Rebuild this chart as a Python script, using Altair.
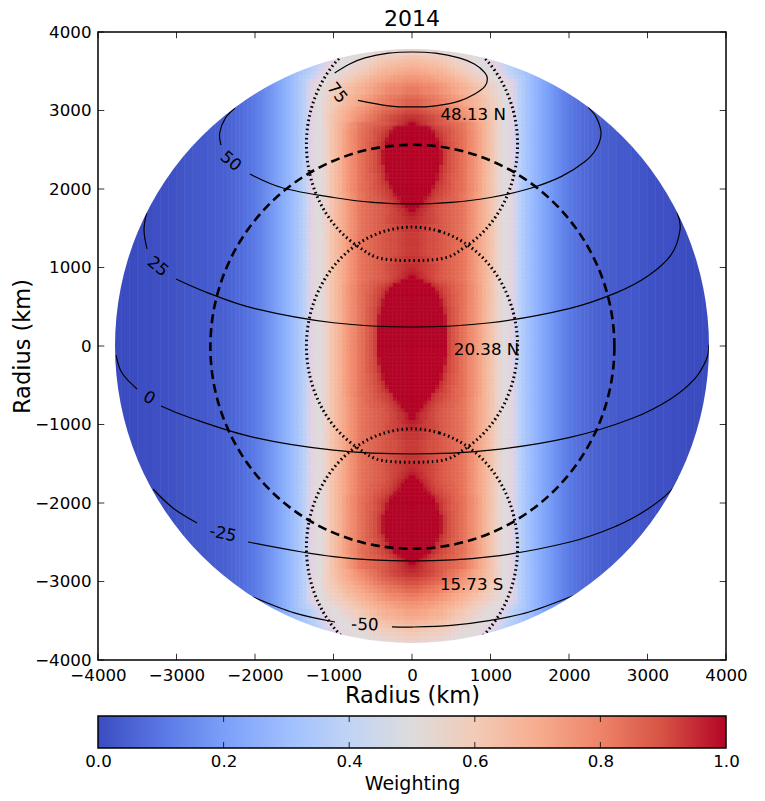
import altair as alt
import pandas as pd

FONT = 'DejaVu Sans'

# map columns: cell edges in km for x >= 0, mirrored for x < 0
inner_edges = list(range(0, 1550, 50))
tail_edges = list(range(1500, 2400, 50)) + list(range(2400, 3900, 100))

# weighting (percent) beyond x = 1500 km, same for every row
tail = [29.5, 27, 25, 22.5, 20.5, 18.5, 16.5, 15, 13, 12, 10.5, 9.5, 8.5, 7.5, 7, 6, 5.5, 5,
        4.5, 4, 3, 3, 2.5, 2, 1.5, 1, 1, 0.5, 0.5, 0, 0, 0]
# weighting (percent) from x = 900 to 1500 km on the rows near the red lobes
shoulder = [68, 65, 62, 58, 54, 50, 47.5, 45, 42, 38.5, 35, 32]
# x = 600 to 900 km
high = [85, 83, 80, 78, 75, 72]
low = [84, 82, 79, 77, 74, 71]

# row shapes, x = 0 to 900 km
A460 = [100] * 9 + [93, 90, 88] + high
A430 = [100] * 8 + [99, 92, 90, 88] + high
A400 = [100] * 8 + [96, 92, 90, 88] + high
A370 = [100] * 7 + [99, 94, 91, 89, 87] + high
A340 = [100] * 7 + [96, 93, 91, 89, 87] + high
A310 = [100] * 6 + [99, 95, 92, 90, 88, 87] + high
A280 = [100] * 6 + [96, 94, 92, 90, 88, 86] + high
A250 = [100] * 5 + [99, 95, 93, 91, 90, 88, 86] + high
A220 = [100] * 5 + [96, 94, 92, 91, 89, 88, 86] + high
A190 = [100] * 4 + [99, 95, 93, 92, 90, 89, 87, 86] + low
A160 = [100] * 3 + [99, 96, 94, 92, 91, 89, 88, 87, 86] + low
A125 = [100] * 3 + [97, 95, 93, 91, 90, 89, 88, 87, 85] + low
A90 = [100, 100, 98, 96, 94, 92, 91, 89, 88, 87, 86, 85] + low
A45 = [100, 98, 96, 95, 93, 92, 90, 89, 88, 87, 86, 85] + low
A0 = [98, 97, 96, 94, 93, 92, 90, 89, 88, 87, 86, 85] + low
O98 = [97, 96, 95, 94, 93, 92, 91, 89, 88, 87, 86, 85] + low
O97 = [96, 96, 95, 94, 93, 92, 91, 89, 88, 87, 86, 85] + low
O96 = [95, 95, 94, 93, 92, 91, 90, 89, 88, 87, 86, 85] + low
O95 = [94, 94, 93, 92, 91, 91, 90, 89, 88, 87, 86, 85] + low

# polar rows, x = 0 to 1500 km
P97 = [97, 96, 95, 94, 93, 92, 90, 89, 87, 85, 84, 82, 80, 78, 76, 73, 71, 69, 67, 64, 62, 59, 55, 50, 47, 45, 42, 38, 35, 32]
P95 = [95, 95, 94, 93, 92, 91, 89, 88, 86, 84, 83, 81, 79, 77, 75, 73, 71, 69, 66, 64, 62, 59, 55, 50, 47, 45, 42, 38, 35, 32]
P92 = [92, 92, 91, 90, 89, 88, 87, 86, 84, 83, 81, 79, 77, 75, 74, 72, 70, 68, 66, 63, 61, 58, 55, 50, 47, 45, 42, 38, 35, 32]
P90 = [90, 90, 89, 88, 87, 86, 85, 84, 82, 81, 79, 77, 75, 74, 72, 70, 68, 67, 65, 62, 60, 58, 55, 50, 47, 45, 42, 38, 35, 32]
P87 = [87, 87, 86, 85, 84, 83, 82, 81, 80, 78, 76, 75, 73, 71, 70, 68, 67, 65, 63, 61, 59, 57, 54, 50, 47, 45, 42, 38, 35, 32]
P85 = [85, 85, 84, 83, 82, 82, 81, 79, 78, 76, 75, 73, 72, 70, 69, 67, 66, 64, 62, 60, 58, 56, 54, 50, 47, 45, 42, 38, 35, 32]
P82 = [82, 82, 81, 80, 80, 79, 78, 76, 75, 74, 72, 71, 69, 68, 67, 65, 64, 62, 60, 59, 56, 54, 52, 50, 47, 45, 42, 38, 35, 32]
P80 = [80, 80, 79, 78, 78, 77, 76, 75, 74, 72, 71, 70, 68, 67, 65, 64, 62, 61, 59, 58, 56, 54, 52, 50, 47, 45, 42, 38, 35, 32]
P77 = [77, 77, 76, 75, 75, 74, 73, 72, 71, 70, 69, 67, 66, 64, 63, 61, 60, 58, 57, 55, 53, 51, 49, 47, 45, 43, 41, 38, 35, 32]
P75 = [75, 75, 74, 74, 73, 72, 71, 70, 69, 68, 67, 65, 64, 62, 61, 59, 58, 56, 55, 53, 51, 49, 47, 45, 43, 41, 39, 37, 35, 32]
P72 = [72, 72, 71, 71, 70, 69, 69, 68, 67, 65, 64, 62, 61, 60, 58, 57, 55, 54, 52, 50, 48, 47, 45, 43, 41, 39, 37, 35, 33, 31]
P70 = [70, 70, 69, 69, 68, 67, 67, 66, 65, 63, 62, 60, 59, 58, 56, 55, 53, 52, 50, 48, 47, 46, 44, 42, 40, 38, 36, 34, 32, 30]
P67 = [67, 67, 66, 66, 65, 65, 64, 63, 62, 60, 59, 58, 56, 55, 54, 53, 51, 50, 49, 47, 46, 45, 43, 41, 39, 37, 35, 33, 31, 30]
P65 = [65, 65, 64, 64, 63, 63, 62, 61, 60, 59, 57, 56, 55, 54, 53, 52, 50, 49, 48, 46, 45, 44, 42, 40, 38, 36, 34, 33, 31, 30]
P62 = [62, 62, 61, 61, 60, 60, 59, 59, 58, 57, 55, 54, 53, 52, 51, 50, 48, 47, 46, 45, 44, 42, 41, 39, 38, 36, 34, 33, 31, 30]
P60 = [60, 60, 59, 59, 58, 58, 57, 57, 56, 55, 54, 53, 52, 51, 50, 48, 47, 46, 45, 44, 43, 41, 40, 38, 37, 35, 34, 32, 31, 30]
P57 = [57, 57, 56, 56, 56, 55, 55, 54, 54, 53, 52, 51, 50, 49, 48, 47, 46, 45, 44, 43, 42, 40, 39, 37, 36, 34, 33, 32, 30, 29]
P55 = [55, 55, 55, 54, 54, 54, 53, 53, 52, 52, 51, 50, 49, 48, 47, 46, 45, 44, 43, 42, 41, 40, 38, 37, 35, 34, 33, 31, 30, 29]

# one shape per 50 km row, y = 3800 down to 0
rows_north = [
    P55, P57, P62, P65, P67, P70, P72, P75, P77, P80,
    P82, P82, P85, P87, P87, P90, P92, P95, P97, A45,
    A190, A250, A280, A310, A340, A340, A370, A370, A370, A370,
    A340, A340, A310, A310, A280, A250, A220, A190, A160, A125,
    A90, A45, A0, O98, O97, O96, O96, O95, O95, O95,
    O95, O95, O95, O96, O96, O97, O98, A0, A45, A125,
    A220, A280, A310, A340, A370, A370, A400, A400, A430, A430,
    A430, A460, A460, A460, A460, A460,
]
# same for y = 0 down to -3800
rows_south = [
    A460, A460, A460, A430, A430, A400, A400, A370, A370, A340,
    A310, A280, A220, A190, A160, A125, A90, A45, A45, A0,
    O98, O97, O96, O96, O95, O95, O95, O95, O96, O96,
    O97, O98, A0, A45, A90, A125, A160, A190, A250, A280,
    A310, A310, A340, A370, A370, A370, A370, A370, A340, A310,
    A280, A250, A220, A160, A90, A45, A0, P97, P95, P92,
    P90, P87, P85, P82, P80, P77, P75, P72, P72, P70,
    P67, P65, P62, P60, P57, P55,
]

# latitude lines, (km, km), each one broken where its label sits
lat_lines = {
    '75': ([-985, -800, -600, -300, 0, 300, 600, 800, 930, 960, 930, 800, 600, 300, 0, -300, -688],
           [3478, 3590, 3670, 3730, 3745, 3730, 3670, 3590, 3480, 3400, 3310, 3210, 3120, 3060, 3045, 3060, 3130]),
    '50a': ([-2255, -2380, -2450, -2433],
            [3032, 2900, 2713, 2560]),
    '50b': ([-2064, -1643, -1000, -500, 0, 500, 1000, 1500, 1900, 2200, 2350, 2408, 2350, 2245],
            [2191, 2013, 1892, 1830, 1810, 1830, 1892, 2007, 2158, 2346, 2516, 2713, 2909, 3040]),
    '25a': ([-3380, -3414, -3376],
            [1700, 1478, 1236]),
    '25b': ([-3006, -2600, -2000, -1000, 0, 1000, 2000, 2600, 3000, 3300, 3414, 3376],
            [853, 677, 476, 296, 242, 296, 476, 677, 888, 1161, 1478, 1707]),
    '0a': ([-3770, -3694, -3503],
           [-115, -344, -548]),
    '0b': ([-3197, -2800, -2000, -1000, 0, 1000, 2000, 2800, 3300, 3600, 3750, 3783],
           [-764, -924, -1168, -1327, -1376, -1327, -1168, -924, -671, -420, -173, 13]),
    '-25a': ([-3299, -3045, -2739],
             [-1822, -2064, -2255]),
    '-25b': ([-2089, -1000, 0, 1000, 2000, 2600, 3000, 3300, 3388],
             [-2497, -2684, -2739, -2684, -2500, -2295, -2080, -1840, -1682]),
    '-50a': ([-2025, -1500, -981],
             [-3197, -3400, -3516]),
    '-50b': ([-255, 0, 500, 1000, 1500, 2140],
             [-3577, -3580, -3558, -3495, -3385, -3146]),
}

# dotted visibility outlines: one ring, centred on ring_centres
ring_x = [0, 348, 672, 951, 1165, 1299, 1345, 1299, 1165, 951, 672, 348]
ring_y = [1515, 1463, 1312, 1071, 757, 392, 0, -392, -757, -1071, -1312, -1463]
ring_centres = [2570, 0, -2570]

# contour labels
lat_text = ['75', '50', '25', '0', '-25', '-50']
lat_text_x = [-955, -2310, -3240, -3350, -2408, -600]
lat_text_y = [3223, 2350, 1010, -662, -2395, -3554]
lat_text_angle = [52, 40, 40, 30, 12, 2]

notes = ['48.13 N', '20.38 N', '15.73 S']
notes_x = [780, 950, 760]
notes_y = [2940, -50, -3040]

limb_centre = [0]
dashed_x = [5]
dashed_y = [-10]
axis_ticks = [-4000, -3000, -2000, -1000, 0, 1000, 2000, 3000, 4000]
frame_lo = [-4000]
frame_hi = [4000]

stops = [0, .1, .2, .3, .4, .5, .6, .7, .8, .9, 1]
stop_colors = ['#3b4cc0', '#5977e3', '#7b9ff9', '#9ebeff', '#c0d4f5', '#dddcdc',
               '#f2cbb7', '#f7ac8e', '#ee8468', '#d65244', '#b40426']
bar_ticks = [0.2, 0.4, 0.6, 0.8]
bar_lo = [0]
bar_hi = [1]

# build the cell table
cells = []


def add_rows(rows, y_start):
    for r, shape in enumerate(rows):
        y_top = y_start - r * 50
        profile = list(shape)
        if len(profile) == 18:
            profile = profile + shoulder
        for c, w in enumerate(profile):
            x0, x1 = inner_edges[c], inner_edges[c + 1]
            cells.append({'x0': x0, 'x1': x1, 'y0': y_top - 50, 'y1': y_top, 'w': w / 100})
            cells.append({'x0': -x1, 'x1': -x0, 'y0': y_top - 50, 'y1': y_top, 'w': w / 100})


add_rows(rows_north, 3800)
add_rows(rows_south, 0)
# the outer columns run the whole height, the limb mask trims them
for c, w in enumerate(tail):
    x0, x1 = tail_edges[c], tail_edges[c + 1]
    cells.append({'x0': x0, 'x1': x1, 'y0': -3800, 'y1': 3800, 'w': w / 100})
    cells.append({'x0': -x1, 'x1': -x0, 'y0': -3800, 'y1': 3800, 'w': w / 100})
cells = pd.DataFrame(cells)

line_rows = []
for name, (xs, ys) in lat_lines.items():
    for i in range(len(xs)):
        line_rows.append({'seg': name, 'i': i, 'x': xs[i], 'y': ys[i]})
line_df = pd.DataFrame(line_rows)

ring_rows = []
for n, centre in enumerate(ring_centres):
    for i in range(len(ring_x)):
        ring_rows.append({'ring': n, 'i': i, 'x': ring_x[i], 'y': ring_y[i] + centre})
    for i in range(1, len(ring_x)):
        j = len(ring_x) - i
        ring_rows.append({'ring': n, 'i': len(ring_x) + i, 'x': -ring_x[j], 'y': ring_y[j] + centre})
ring_df = pd.DataFrame(ring_rows)

km = alt.Scale(domain=[-4000, 4000], nice=False, zero=False)
color_scale = alt.Scale(domain=stops, range=stop_colors, clamp=True)


def km_axis(title, title_padding):
    return alt.Axis(title=title, values=axis_ticks, format='d', grid=False, domain=False, ticks=False,
                    labelFont=FONT, labelFontSize=16.67, labelColor='black', labelPadding=7,
                    labelOverlap=False, labelBound=False, labelFlush=False,
                    titleFont=FONT, titleFontSize=22.5, titleFontWeight='normal', titleColor='black',
                    titlePadding=title_padding)


heat = alt.Chart(cells).mark_rect(strokeWidth=0.6).encode(
    x=alt.X('x0:Q', scale=km, axis=km_axis('Radius (km)', 1)),
    x2='x1:Q',
    y=alt.Y('y0:Q', scale=km, axis=km_axis('Radius (km)', 0)),
    y2='y1:Q',
    color=alt.Color('w:Q', scale=color_scale, legend=None),
    stroke=alt.Stroke('w:Q', scale=color_scale, legend=None),
)

rings = alt.Chart(ring_df).mark_line(
    interpolate='cardinal-closed', color='black', strokeWidth=3, strokeDash=[1.6, 3], clip=True
).encode(x='x:Q', y='y:Q', detail='ring:N', order='i:Q')

dashed = alt.Chart(pd.DataFrame({'x': dashed_x, 'y': dashed_y})).mark_point(
    shape='circle', filled=False, color='black', opacity=1, strokeWidth=2.6, strokeDash=[9, 5], size=163216
).encode(x='x:Q', y='y:Q')

lines = alt.Chart(line_df).mark_line(interpolate='cardinal', color='black', strokeWidth=1.2).encode(
    x='x:Q', y='y:Q', detail='seg:N', order='i:Q')

# white ring hides everything outside the limb
mask = alt.Chart(pd.DataFrame({'x': limb_centre, 'y': limb_centre})).mark_arc(
    theta=0, theta2=6.2832, radius=297, radius2=470, color='white', clip=True
).encode(x='x:Q', y='y:Q')

lat_labels = alt.Chart(pd.DataFrame({'t': lat_text, 'x': lat_text_x, 'y': lat_text_y, 'a': lat_text_angle})).mark_text(
    font=FONT, fontSize=16.67, color='black', align='center', baseline='middle'
).encode(x='x:Q', y='y:Q', text='t:N', angle=alt.Angle('a:Q', scale=None))

note_labels = alt.Chart(pd.DataFrame({'t': notes, 'x': notes_x, 'y': notes_y})).mark_text(
    font=FONT, fontSize=16.67, color='black', align='center', baseline='middle'
).encode(x='x:Q', y='y:Q', text='t:N')

tick_df = pd.DataFrame({'t': axis_ticks})
tick_len = 80
tick_layers = [
    alt.Chart(tick_df).mark_rule(color='black', strokeWidth=0.8).encode(
        x='t:Q', y=alt.datum(-4000), y2=alt.datum(-4000 + tick_len)),
    alt.Chart(tick_df).mark_rule(color='black', strokeWidth=0.8).encode(
        x='t:Q', y=alt.datum(4000), y2=alt.datum(4000 - tick_len)),
    alt.Chart(tick_df).mark_rule(color='black', strokeWidth=0.8).encode(
        y='t:Q', x=alt.datum(-4000), x2=alt.datum(-4000 + tick_len)),
    alt.Chart(tick_df).mark_rule(color='black', strokeWidth=0.8).encode(
        y='t:Q', x=alt.datum(4000), x2=alt.datum(4000 - tick_len)),
]

frame = alt.Chart(pd.DataFrame({'a': frame_lo, 'b': frame_hi})).mark_rect(
    filled=False, stroke='black', strokeWidth=1.5
).encode(x='a:Q', x2='b:Q', y='a:Q', y2='b:Q')

main = alt.layer(heat, rings, dashed, lines, mask, lat_labels, note_labels, *tick_layers, frame).properties(
    width=628, height=628,
    title=alt.TitleParams('2014', font=FONT, fontSize=22, fontWeight='normal', color='black', offset=-7, frame='group'),
)

# colour bar
gradient = alt.LinearGradient(
    gradient='linear', x1=0, x2=1, y1=0, y2=0,
    stops=[alt.GradientStop(color=c, offset=s) for s, c in zip(stops, stop_colors)],
)
bar_df = pd.DataFrame({'a': bar_lo, 'b': bar_hi})
bar_scale = alt.Scale(domain=[0, 1], nice=False)
bar = alt.Chart(bar_df).mark_rect(color=gradient, stroke='black', strokeWidth=1.5).encode(
    x=alt.X('a:Q', scale=bar_scale, axis=alt.Axis(
        title='Weighting', values=[0, 0.2, 0.4, 0.6, 0.8, 1], format='.1f', grid=False, domain=False, ticks=False,
        labelFont=FONT, labelFontSize=16.67, labelColor='black', labelPadding=5,
        labelOverlap=False, labelBound=False, labelFlush=False,
        titleFont=FONT, titleFontSize=19, titleFontWeight='normal', titleColor='black', titlePadding=5)),
    x2='b:Q',
)
bar_tick_df = pd.DataFrame({'t': bar_ticks})
bar_up = alt.Chart(bar_tick_df).mark_rule(color='black', strokeWidth=0.8).encode(
    x=alt.X('t:Q', scale=bar_scale), y=alt.value(32), y2=alt.value(26))
bar_down = alt.Chart(bar_tick_df).mark_rule(color='black', strokeWidth=0.8).encode(
    x=alt.X('t:Q', scale=bar_scale), y=alt.value(0), y2=alt.value(6))
colorbar = alt.layer(bar, bar_up, bar_down).properties(width=628, height=32)

chart = alt.vconcat(main, colorbar, spacing=7).properties(
    padding={'left': 3, 'top': 0, 'right': 0, 'bottom': 0}, background='white'
).configure_view(stroke=None)

chart.save("out.html", embed_options={"renderer": "svg", "actions": False})
